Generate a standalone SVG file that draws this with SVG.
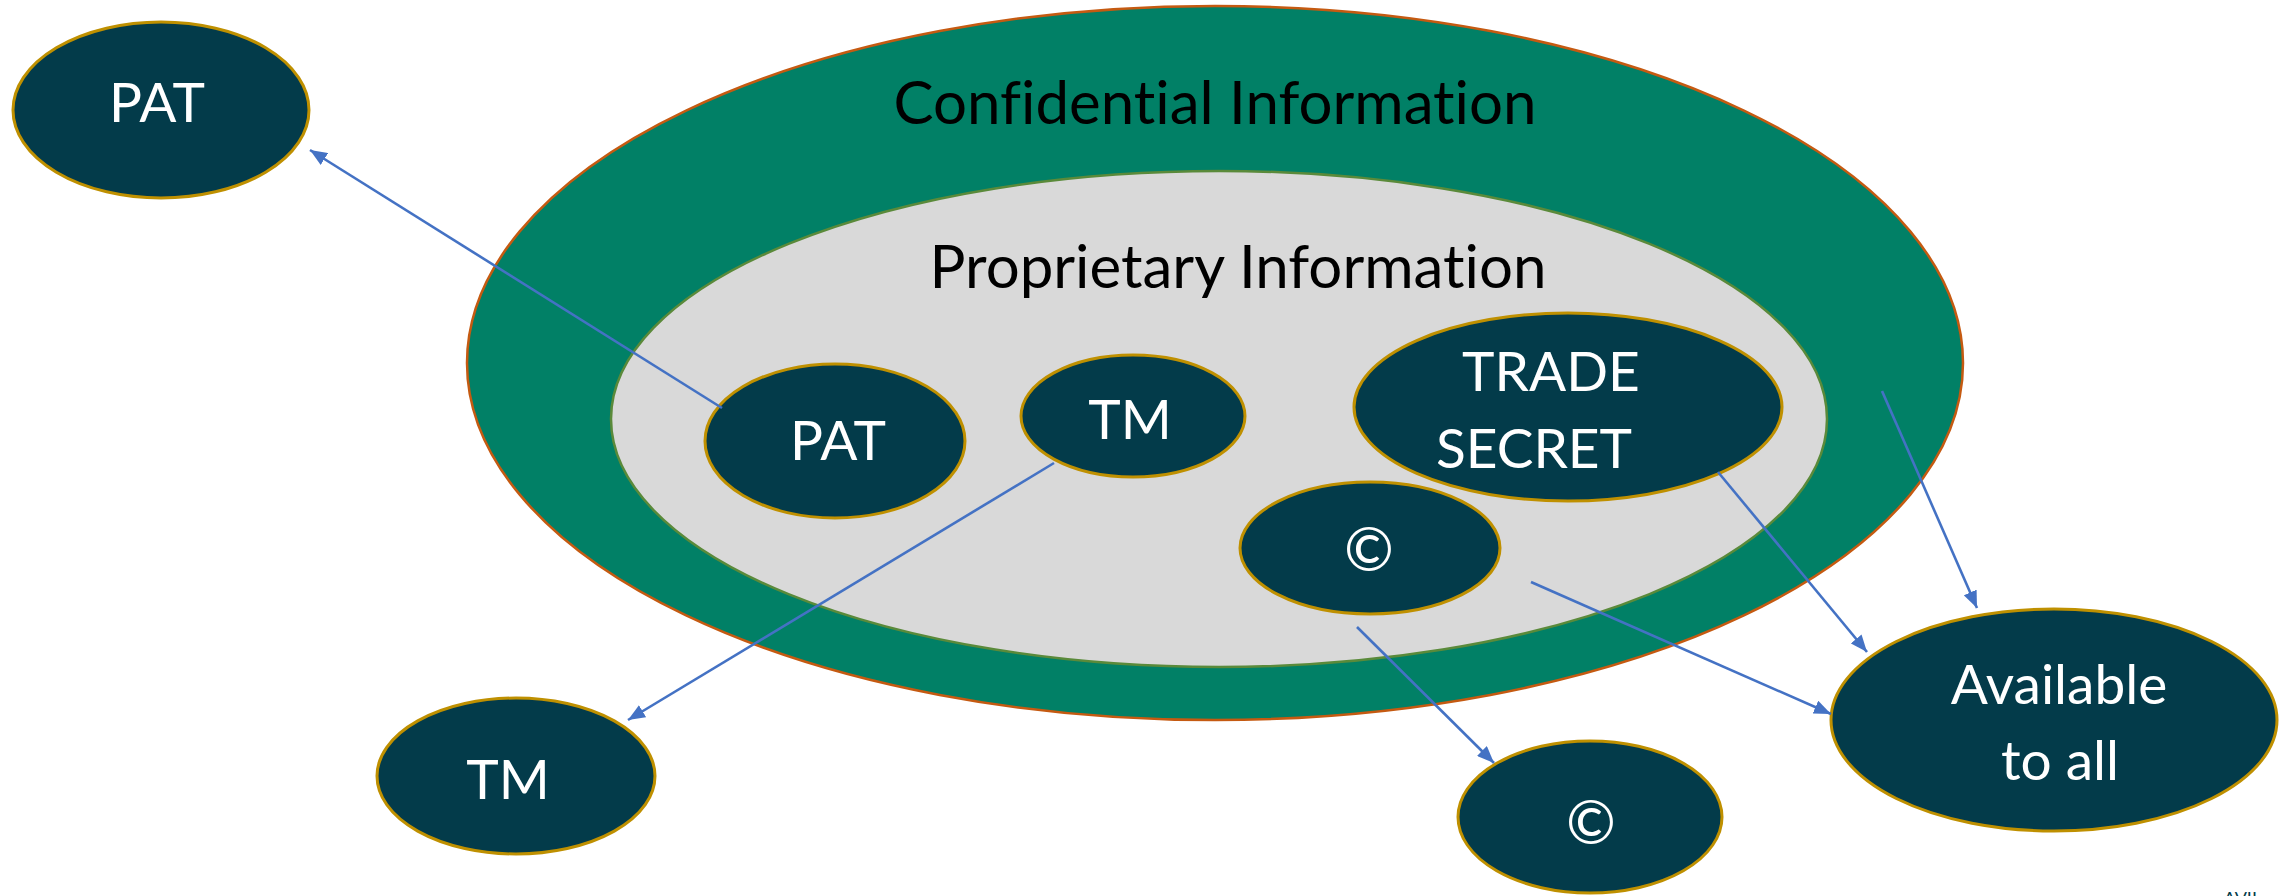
<svg xmlns="http://www.w3.org/2000/svg" width="2288" height="896" viewBox="0 0 2288 896">
  <style>
    text { font-variant-ligatures: none; }
    .node { fill: #033B4A; stroke: #BF9000; stroke-width: 3; }
    .label { fill: #FFFFFF; font-family: Lato, "Liberation Sans", sans-serif; font-size: 55px; text-anchor: middle; }
    .sym { font-size: 60px; }
    .title { fill: #000000; font-family: Lato, "Liberation Sans", sans-serif; font-size: 60px; text-anchor: middle; }
    .link { stroke: #4472C4; stroke-width: 2.6; fill: none; marker-end: url(#arrow); }
  </style>
  <defs>
    <marker id="arrow" markerUnits="userSpaceOnUse" markerWidth="18" markerHeight="14" refX="17" refY="7" orient="auto">
      <path d="M0,0 L17,7 L0,14 z" fill="#4472C4"/>
    </marker>
  </defs>

  <!-- nested regions -->
  <g id="confidential">
    <ellipse cx="1215" cy="363" rx="748" ry="357" fill="#018066" stroke="#C55A11" stroke-width="2.5"/>
    <text class="title" x="1215" y="124">Confidential Information</text>
  </g>
  <g id="proprietary">
    <ellipse cx="1219" cy="419" rx="608" ry="248" fill="#D9D9D9" stroke="#5A8A3A" stroke-width="2.5"/>
    <text class="title" x="1238" y="288">Proprietary Information</text>
  </g>

  <!-- nodes inside the proprietary region -->
  <g id="pat-inner">
    <ellipse class="node" cx="835" cy="441" rx="130" ry="77"/>
    <text class="label" x="838" y="460">PAT</text>
  </g>
  <g id="tm-inner">
    <ellipse class="node" cx="1133" cy="416" rx="112" ry="61"/>
    <text class="label" x="1130" y="439">TM</text>
  </g>
  <g id="trade-secret">
    <ellipse class="node" cx="1568" cy="407" rx="214" ry="94"/>
    <text class="label" x="1551" y="391">TRADE</text>
    <text class="label" x="1534" y="468">SECRET</text>
  </g>
  <g id="copyright-inner">
    <ellipse class="node" cx="1370" cy="548" rx="130" ry="66"/>
    <text class="label sym" x="1369" y="571">©</text>
  </g>

  <!-- nodes outside -->
  <g id="pat-outer">
    <ellipse class="node" cx="161" cy="110" rx="148" ry="88"/>
    <text class="label" x="157" y="122">PAT</text>
  </g>
  <g id="tm-outer">
    <ellipse class="node" cx="516" cy="776" rx="139" ry="78"/>
    <text class="label" x="508" y="799">TM</text>
  </g>
  <g id="copyright-outer">
    <ellipse class="node" cx="1590" cy="817" rx="132" ry="76"/>
    <text class="label sym" x="1591" y="844">©</text>
  </g>
  <g id="available">
    <ellipse class="node" cx="2054" cy="720" rx="223" ry="111"/>
    <text class="label" x="2059" y="704">Available</text>
    <text class="label" x="2060" y="780">to all</text>
  </g>

  <!-- connectors -->
  <g id="connectors">
    <line class="link" x1="722" y1="408" x2="310" y2="150"/>
    <line class="link" x1="1054" y1="463" x2="628" y2="720"/>
    <line class="link" x1="1718" y1="472" x2="1867" y2="652"/>
    <line class="link" x1="1882" y1="391" x2="1977" y2="608"/>
    <line class="link" x1="1531" y1="582" x2="1831" y2="714"/>
    <line class="link" x1="1357" y1="627" x2="1494" y2="763"/>
  </g>

  <!-- footer text, clipped by the bottom edge -->
  <text x="2209" y="905" fill="#033B4A" font-family="Lato, 'Liberation Sans', sans-serif" font-size="18">• AVII</text>
</svg>
